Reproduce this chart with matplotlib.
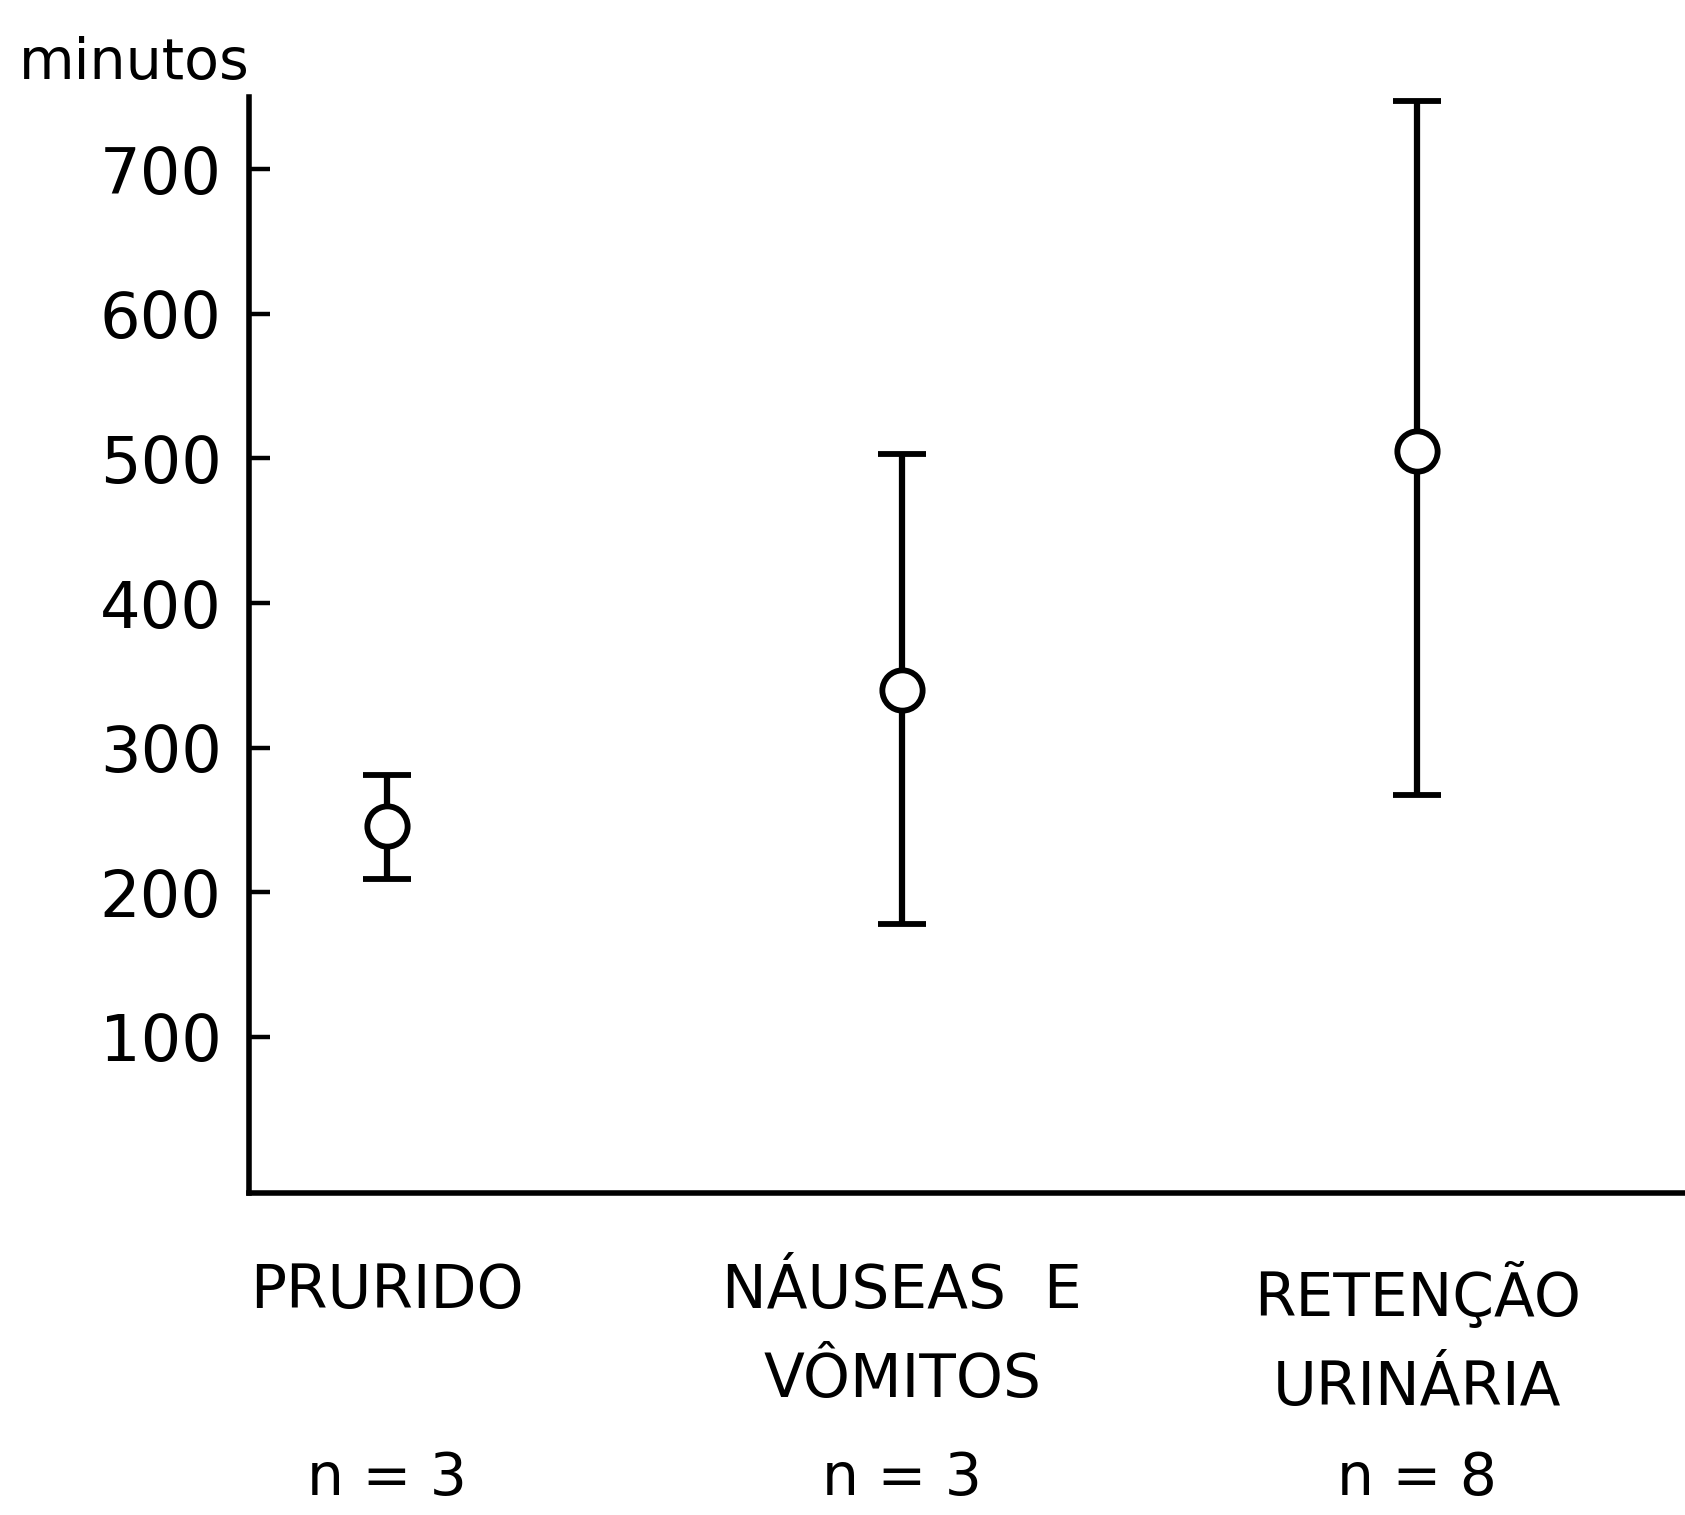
import matplotlib
matplotlib.use("Agg")
import matplotlib.pyplot as plt

# data (minutes)
categories = ["PRURIDO", "NÁUSEAS  E\nVÔMITOS", "RETENÇÃO\nURINÁRIA"]
n_labels = ["n = 3", "n = 3", "n = 8"]
means = [246, 340, 505]
lower = [209, 178, 267]
upper = [281, 503, 747]
y_ticks = [100, 200, 300, 400, 500, 600, 700]

plt.rcParams["font.family"] = ["DejaVu Sans"]

fig = plt.figure(figsize=(16.85, 15.15), dpi=100)
ax = fig.add_axes([0.148, 0.2125, 0.852, 0.7235])

x = list(range(len(categories)))
yerr = [[m - lo for m, lo in zip(means, lower)],
        [hi - m for m, hi in zip(means, upper)]]

ax.errorbar(x, means, yerr=yerr, fmt="o", color="black", ecolor="black",
            elinewidth=4.5, capsize=17, capthick=4.5,
            markersize=29, markerfacecolor="white", markeredgewidth=4.2,
            markeredgecolor="black", zorder=3)

ax.set_xlim(-0.268, 2.52)
ax.set_ylim(-8, 750)

for side in ["top", "right"]:
    ax.spines[side].set_visible(False)
for side in ["left", "bottom"]:
    ax.spines[side].set_linewidth(4)

ax.set_yticks(y_ticks)
ax.set_yticklabels([str(v) for v in y_ticks])
ax.tick_params(axis="y", direction="in", length=15, width=3.2, pad=20,
               labelsize=46)
ax.set_xticks([])

# category labels and sample sizes under the axis
trans = ax.get_xaxis_transform()
for xi, cat, nl in zip(x, categories, n_labels):
    ax.text(xi, -0.063, cat, transform=trans, ha="center", va="top",
            fontsize=43, linespacing=1.65)
    ax.text(xi, -0.234, nl, transform=trans, ha="center", va="top",
            fontsize=42)

fig.text(0.148, 0.958, "minutos", ha="right", va="center", fontsize=41)

fig.savefig("out.png", dpi=100, facecolor="white")
